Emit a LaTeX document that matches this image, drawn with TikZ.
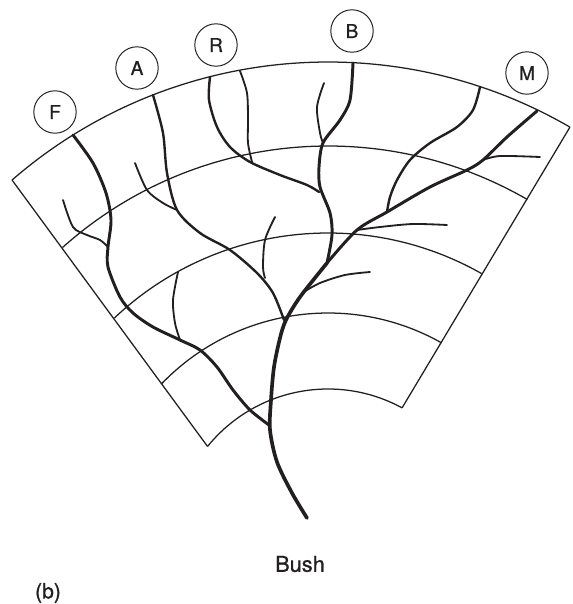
\documentclass[tikz,border=0pt]{standalone}
\usepackage{fontspec}
\setmainfont{TeX Gyre Heros}[FakeBold=0.9]
\definecolor{ink}{HTML}{231F20}
\begin{document}
\begin{tikzpicture}[x=0.025cm, y=-0.025cm, color=ink,
    grid/.style={line width=0.9pt},
    trunk/.style={line width=2.6pt, line cap=round},
    stem/.style={line width=2.1pt, line cap=round},
    branch/.style={line width=1.7pt, line cap=round},
    twig/.style={line width=1.3pt, line cap=round},
    tag/.style={draw, circle, line width=0.7pt, minimum size=1.06cm, inner sep=0pt,
      font=\fontsize{13.5}{16}\selectfont}]
  \useasboundingbox (0,0) rectangle (572,604);
  \coordinate (C) at (328,544);

  % Fan
  \foreach \r/\a/\b in {482/-130.96/-59.87, 398/-131.85/-59.94, 311/-133.4/-60.4,
                        231/-136.1/-60.57, 155/-141/-61.45}
    \draw[grid] (C) ++(\a:\r) arc[start angle=\a, end angle=\b, radius=\r];
  \path (C) ++(-130.96:482) coordinate (ol)
        (C) ++(-59.87:482) coordinate (or)
        (C) ++(-141:155) coordinate (il)
        (C) ++(-61.45:155) coordinate (ir);
  \draw[grid] (ol) -- (il);
  \draw[grid] (or) -- (ir);

  % Trunk and main limbs
  \draw[trunk] plot[smooth] coordinates {(307,518) (292,493) (277,462) (270,430)
    (271,400) (274,367) (280,338) (286,320) (300,297) (327,263)};
  \draw[stem] plot[smooth] coordinates {(327,263) (357,230) (387,212) (430,187)
    (467,170) (483,160) (507,137) (537,111)};
  \draw[stem] plot[smooth] coordinates {(353,63) (350,100) (340,120) (323,143)
    (319,167) (320,187) (330,213) (332,235) (327,263)};
  \draw[stem] plot[smooth] coordinates {(73,135) (93,163) (106,193) (111,220)
    (108,247) (108,267) (120,297) (133,313) (153,327) (180,340) (200,350)
    (217,367) (233,390) (250,410) (269,425)};
  \draw[branch] plot[smooth] coordinates {(153,95) (163,133) (167,173) (177,210)
    (200,233) (230,250) (257,273) (273,293) (284,320)};
  \draw[branch] plot[smooth] coordinates {(210,77) (209,100) (217,127) (230,147)
    (250,162) (280,175) (307,185) (319,192)};
  \draw[branch] plot[smooth] coordinates {(387,212) (390,197) (397,180) (410,160)
    (430,143) (457,127) (473,110) (480,87)};

  % Twigs
  \draw[twig] plot[smooth] coordinates {(240,71) (247,93) (248,120) (248,143) (252,162)};
  \draw[twig] plot[smooth] coordinates {(324,83) (317,107) (320,133) (323,143)};
  \draw[twig] plot[smooth] coordinates {(135,163) (147,190) (163,203) (177,210)};
  \draw[twig] plot[smooth] coordinates {(275,217) (265,240) (263,267) (265,278)};
  \draw[twig] plot[smooth] coordinates {(63,200) (73,227) (87,235) (100,240) (108,247)};
  \draw[twig] plot[smooth] coordinates {(178,272) (173,300) (175,323) (180,340)};
  \draw[twig] plot[smooth] coordinates {(302,293) (320,283) (345,275) (370,272)};
  \draw[twig] plot[smooth] coordinates {(357,230) (380,227) (413,224) (447,225)};
  \draw[twig] plot[smooth] coordinates {(483,160) (500,156) (540,157)};

  % Labels
  \node[tag] (F) at (55,112) {F};
  \node[tag] (A) at (137,68) {A};
  \node[tag] (R) at (216,45) {R};
  \node[tag] (B) at (352,31) {B};
  \node[tag] (M) at (527,73) {M};
  \node[font=\fontsize{15.5}{18}\selectfont] (bush) at (300,564) {Bush};
  \node[font=\fontsize{15}{17}\selectfont] (part) at (48,593) {(b)};
\end{tikzpicture}
\end{document}
